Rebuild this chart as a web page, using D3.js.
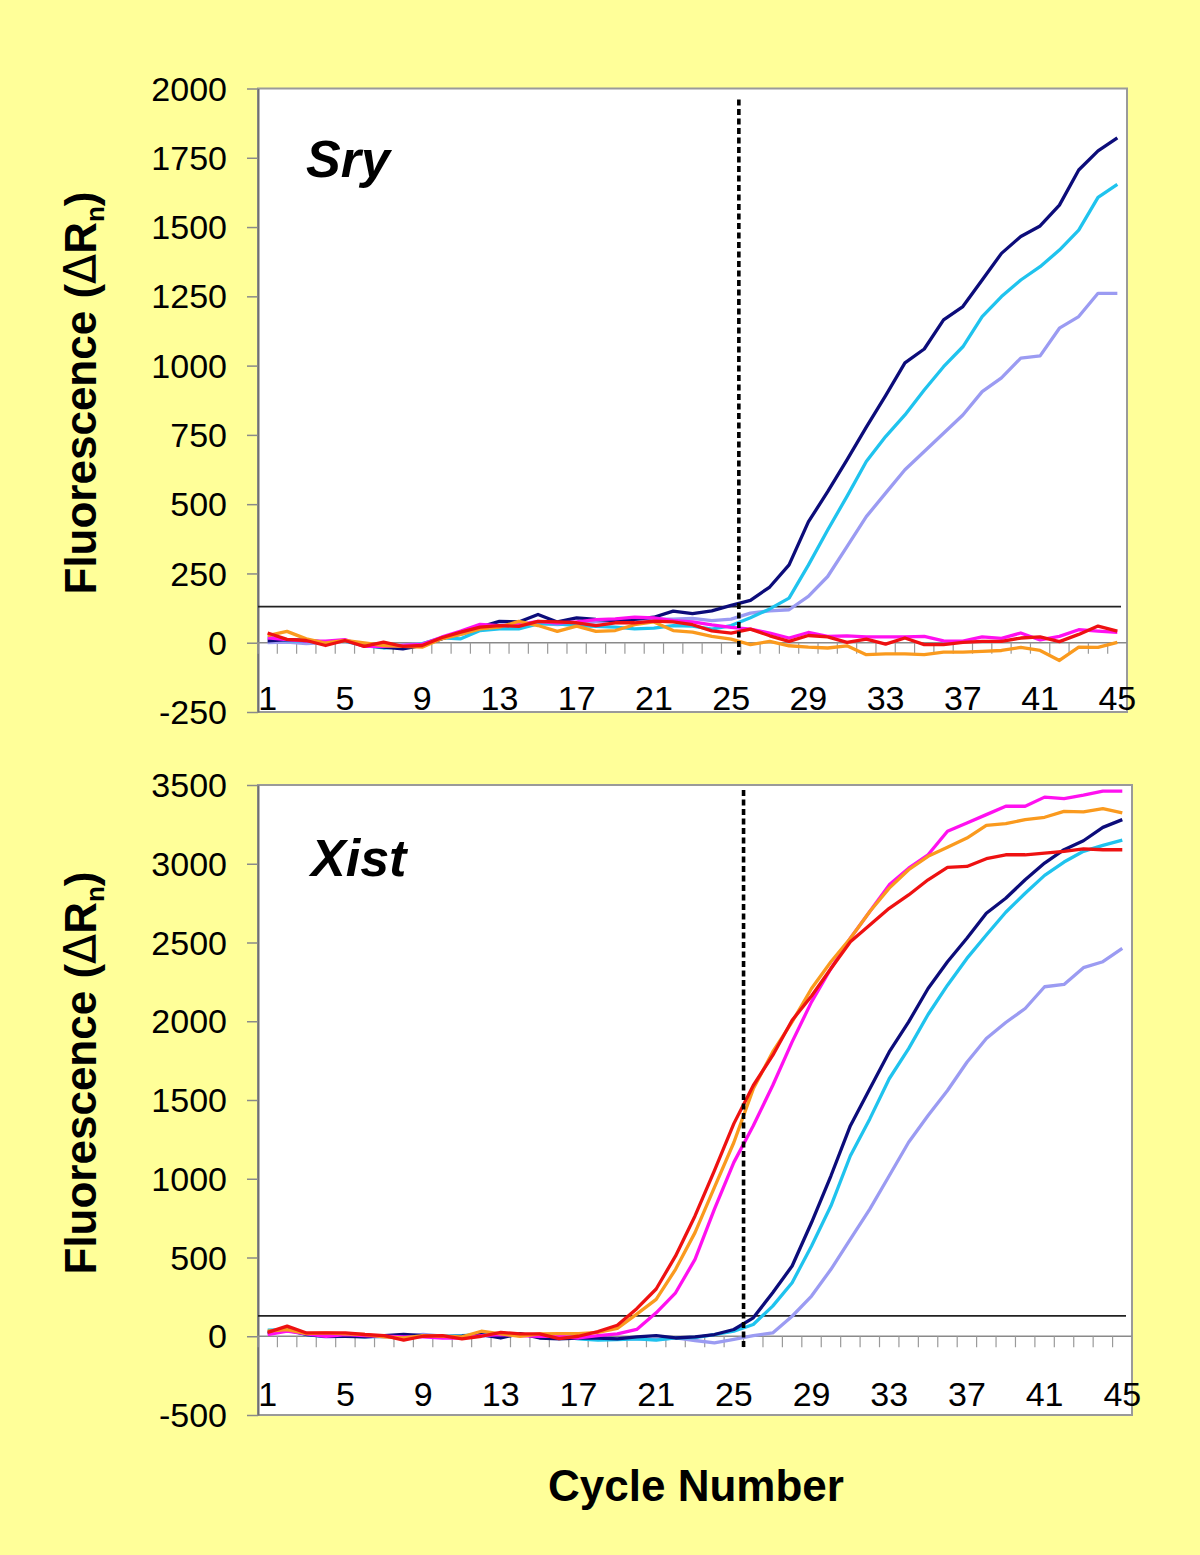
<!DOCTYPE html>
<html><head><meta charset="utf-8">
<script src="https://cdn.jsdelivr.net/npm/d3@7"></script>
<style>
html,body{margin:0;padding:0;background:#FFFF99;}
svg{display:block;}
</style></head><body>
<svg id="c" width="1200" height="1555"></svg>
<script>
const FONT = '"Liberation Sans", Arial, Helvetica, sans-serif';
const cycles = d3.range(1, 46);
const xTickLabels = [1, 5, 9, 13, 17, 21, 25, 29, 33, 37, 41, 45];
const sryTicks = [-250, 0, 250, 500, 750, 1000, 1250, 1500, 1750, 2000];
const xistTicks = [-500, 0, 500, 1000, 1500, 2000, 2500, 3000, 3500];
const seriesColors = ["#9b9bf2", "#1fc3ee", "#0c0c7a", "#ff10f0", "#fa9a1e", "#ee1111"];

// Sry panel (series order: lavender, cyan, navy, magenta, orange, red)
const sryLavender = [0,2,-3,0,5,-10,-15,-8,-3,15,30,48,55,60,70,65,70,75,80,85,85,85,88,80,85,107,115,119,167,239,347,455,540,624,690,756,822,906,956,1027,1035,1135,1177,1261,1261];
const sryCyan = [20,8,5,2,6,-10,-19,-13,-4,18,14,44,50,50,68,68,62,59,56,50,53,62,60,49,62,90,122,161,280,407,528,654,744,822,912,996,1068,1177,1249,1309,1357,1417,1489,1607,1654];
const sryNavy = [7,11,8,2,8,-10,-16,-22,-10,14,38,56,77,75,102,75,90,84,80,84,92,114,105,115,135,153,201,281,436,545,660,778,892,1010,1060,1165,1213,1309,1405,1466,1504,1579,1706,1775,1822];
const sryMagenta = [18,11,6,6,11,-13,-13,-10,-6,20,42,66,62,65,77,71,75,83,86,92,90,80,75,64,55,49,35,17,37,23,25,21,21,21,23,7,6,21,16,35,10,23,47,42,37];
const sryOrange = [26,41,14,-1,8,-1,-10,-13,-16,14,30,50,56,77,62,41,60,41,44,65,75,44,38,23,13,-7,5,-11,-16,-19,-11,-43,-40,-40,-43,-34,-34,-31,-28,-17,-28,-64,-16,-17,1];
const sryRed = [35,12,8,-10,8,-13,2,-13,-10,18,38,56,62,59,77,75,72,62,72,72,78,75,65,43,35,49,25,5,26,21,1,13,-5,17,-7,-7,1,5,5,17,21,4,30,60,42];

// Xist panel
const xistLavender = [21,38,11,-4,0,0,-4,0,11,0,-4,4,0,11,4,-11,-4,-11,-17,-17,-21,-10,-27,-42,-20,4,21,127,255,425,616,807,1019,1232,1401,1560,1740,1890,1992,2081,2219,2234,2340,2378,2463];
const xistCyan = [38,42,11,0,4,-4,0,0,4,0,4,11,4,11,0,0,-17,-25,-21,-17,-25,-11,-8,11,32,75,191,340,573,828,1146,1380,1635,1826,2043,2229,2399,2548,2692,2813,2926,3011,3079,3117,3150];
const xistNavy = [17,42,11,0,0,-4,4,11,4,-4,0,11,-11,17,-11,-17,-11,-11,-17,-4,4,-11,-4,11,43,117,276,446,722,1019,1337,1571,1805,1996,2208,2378,2527,2686,2781,2898,3004,3089,3146,3231,3280];
const xistMagenta = [11,32,15,0,11,4,0,-4,-4,-11,-11,4,11,4,0,0,-11,4,15,43,149,276,488,807,1104,1337,1592,1869,2123,2335,2527,2697,2866,2972,3057,3206,3259,3312,3365,3365,3423,3414,3435,3461,3461];
const xistOrange = [32,42,17,21,15,11,-4,-11,4,0,-4,32,15,0,15,17,17,25,50,140,234,425,658,945,1230,1571,1805,1996,2208,2378,2527,2697,2845,2962,3047,3104,3163,3244,3255,3280,3295,3333,3329,3350,3323];
const xistRed = [25,64,21,21,21,11,4,-25,0,4,-17,0,25,15,15,-15,0,30,70,175,300,510,764,1051,1350,1592,1783,2006,2160,2335,2505,2611,2717,2802,2898,2977,2983,3032,3057,3057,3068,3079,3095,3089,3089];

const sryThreshold = 130, xistThreshold = 130;
const sryCt = 25.4, xistCt = 25.5;

const svg = d3.select("#c");
svg.append("rect").attr("x",0).attr("y",0).attr("width",1200).attr("height",1555).attr("fill","#FFFF99");

function panel(cfg) {
  const g = svg.append("g");
  const x = d3.scaleBand().domain(cycles).range([cfg.left, cfg.right]).padding(0);
  const y = d3.scaleLinear().domain(cfg.domain).range([cfg.bottom, cfg.top]);
  const bw = x.bandwidth();
  const cx = c => x(c) + bw / 2;
  const xPos = v => x(1) + bw / 2 + (v - 1) * bw;

  g.append("rect").attr("x", cfg.left).attr("y", cfg.top)
    .attr("width", cfg.right - cfg.left).attr("height", cfg.bottom - cfg.top)
    .attr("fill", "#ffffff").attr("stroke", "#9a9a9a").attr("stroke-width", 2);

  // y axis
  const ya = g.append("g").attr("transform", `translate(${cfg.left},0)`)
    .call(d3.axisLeft(y).tickValues(cfg.ticks).tickSize(11).tickSizeOuter(0).tickPadding(20).tickFormat(d => String(d)));
  ya.attr("font-family", FONT).attr("font-size", 34);
  ya.select(".domain").attr("stroke", "#707070").attr("stroke-width", 2);
  ya.selectAll(".tick line").attr("stroke", "#8a8a8a").attr("stroke-width", 1.5);
  ya.selectAll(".tick text").attr("fill", "#000").attr("dy", "0.34em");

  // zero axis line + category tick marks at band boundaries
  g.append("line").attr("x1", cfg.left).attr("x2", cfg.right).attr("y1", y(0)).attr("y2", y(0))
    .attr("stroke", "#8a8a8a").attr("stroke-width", 1.5);
  const bounds = cycles.map(c => x(c)).concat([cfg.right]);
  g.append("g").selectAll("line").data(bounds).join("line")
    .attr("x1", d => d).attr("x2", d => d).attr("y1", y(0)).attr("y2", y(0) + 11)
    .attr("stroke", "#9a9a9a").attr("stroke-width", 1.2);

  // x labels (placed just above plot bottom)
  const xa = g.append("g").attr("transform", `translate(0,${cfg.bottom})`)
    .call(d3.axisTop(x).tickValues(xTickLabels).tickSize(0).tickPadding(cfg.labelGap));
  xa.attr("font-family", FONT).attr("font-size", 34);
  xa.select(".domain").remove();
  xa.selectAll(".tick text").attr("fill", "#000");

  // threshold line
  g.append("line").attr("x1", cfg.left).attr("x2", cfg.right - 6)
    .attr("y1", y(cfg.threshold)).attr("y2", y(cfg.threshold))
    .attr("stroke", "#222").attr("stroke-width", 1.8);

  // series
  const line = d3.line().x((d, i) => cx(cycles[i])).y(d => y(d));
  g.append("g").selectAll("path").data(cfg.series).join("path")
    .attr("d", d => line(d)).attr("fill", "none")
    .attr("stroke", (d, i) => seriesColors[i]).attr("stroke-width", 3.3)
    .attr("stroke-linejoin", "round");

  // Ct dashed line
  g.append("line").attr("x1", xPos(cfg.ct)).attr("x2", xPos(cfg.ct))
    .attr("y1", cfg.top + cfg.dashTopGap).attr("y2", y(0) + 12)
    .attr("stroke", "#000").attr("stroke-width", 3.6).attr("stroke-dasharray", "6,3.5");

  // gene title
  g.append("text").attr("x", cfg.titleX).attr("y", cfg.titleY)
    .attr("font-family", FONT).attr("font-weight", "bold").attr("font-style", "italic")
    .attr("font-size", 52).attr("fill", "#000").text(cfg.title);

  // y title
  const yt = g.append("text").attr("transform", `translate(96,${cfg.yTitleY}) rotate(-90)`)
    .attr("text-anchor", "middle").attr("font-family", FONT).attr("font-weight", "bold")
    .attr("font-size", 44).attr("fill", "#000");
  yt.append("tspan").text("Fluorescence (");
  yt.append("tspan").attr("font-weight", "normal").attr("font-family", '"DejaVu Sans", sans-serif').text("\u0394");
  yt.append("tspan").text("R");
  yt.append("tspan").attr("font-size", 26).attr("dy", 8).text("n");
  yt.append("tspan").attr("dy", -8).text(")");
}

panel({
  left: 258, right: 1127, top: 88.5, bottom: 712, domain: [-250, 2000], ticks: sryTicks,
  series: [sryLavender, sryCyan, sryNavy, sryMagenta, sryOrange, sryRed],
  threshold: sryThreshold, ct: sryCt, labelGap: 2, dashTopGap: 11,
  title: "Sry", titleX: 306, titleY: 177, yTitleY: 393
});
panel({
  left: 258, right: 1132, top: 785, bottom: 1415, domain: [-500, 3500], ticks: xistTicks,
  series: [xistLavender, xistCyan, xistNavy, xistMagenta, xistOrange, xistRed],
  threshold: xistThreshold, ct: xistCt, labelGap: 9, dashTopGap: 5,
  title: "Xist", titleX: 311, titleY: 876, yTitleY: 1073
});

svg.append("text").attr("x", 696).attr("y", 1501).attr("text-anchor", "middle")
  .attr("font-family", FONT).attr("font-weight", "bold").attr("font-size", 44)
  .attr("fill", "#000").text("Cycle Number");
</script>
</body></html>
